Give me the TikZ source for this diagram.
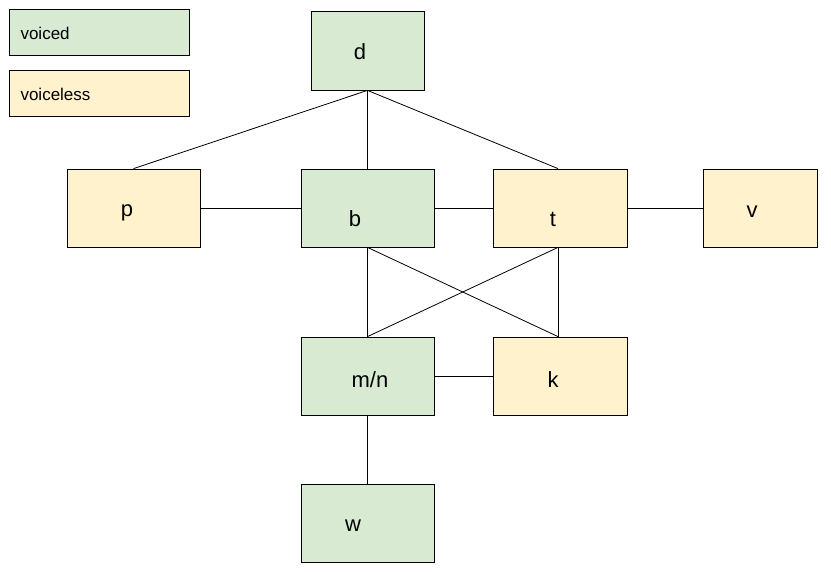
\documentclass[tikz,border=0pt]{standalone}
\usepackage{fontspec}
\setmainfont{Liberation Sans}
\definecolor{vgreen}{HTML}{D9EAD3}
\definecolor{vyellow}{HTML}{FFF2CC}
\begin{document}
\begin{tikzpicture}[x=1pt,y=-1pt,
  box/.style={draw=black,line width=0.8pt},
  gbox/.style={box,fill=vgreen},
  ybox/.style={box,fill=vyellow},
  lbl/.style={font=\fontsize{22}{26}\selectfont},
  leg/.style={font=\fontsize{17}{20}\selectfont,anchor=west},
  link/.style={line width=0.8pt}]
\useasboundingbox (0,0) rectangle (831,573);
\fill[white] (0,0) rectangle (831,573);
\draw[gbox] (9,9) rectangle (189,55);
\node[leg] (lv) at (17,33) {voiced};
\draw[ybox] (9,70) rectangle (189,116);
\node[leg] (lu) at (17,94) {voiceless};
% nodes
\node[gbox,minimum width=113,minimum height=79,inner sep=0] (d) at (367.5,50.5) {};
\node[ybox,minimum width=133,minimum height=78,inner sep=0] (p) at (133.5,208) {};
\node[gbox,minimum width=133,minimum height=78,inner sep=0] (b) at (367.5,208) {};
\node[ybox,minimum width=134,minimum height=78,inner sep=0] (t) at (560,208) {};
\node[ybox,minimum width=114,minimum height=78,inner sep=0] (v) at (760,208) {};
\node[gbox,minimum width=133,minimum height=78,inner sep=0] (mn) at (367.5,376) {};
\node[ybox,minimum width=134,minimum height=78,inner sep=0] (k) at (560,376) {};
\node[gbox,minimum width=133,minimum height=78,inner sep=0] (w) at (367.5,523) {};
% labels
\node[lbl] at (360,52) {d};
\node[lbl] at (127,213) {p};
\node[lbl] at (355,219) {b};
\node[lbl] at (553,219) {t};
\node[lbl] at (752,212) {v};
\node[lbl] at (370,380) {m/n};
\node[lbl] at (553,380) {k};
\node[lbl] at (353,526) {w};
% links
\draw[link] (d.south) -- (p.north);
\draw[link] (d.south) -- (b.north);
\draw[link] (d.south) -- ([xshift=-2]t.north);
\draw[link] (p.east) -- (b.west);
\draw[link] (b.east) -- (t.west);
\draw[link] (t.east) -- (v.west);
\draw[link] (b.south) -- (mn.north);
\draw[link] (b.south) -- ([xshift=-2]k.north);
\draw[link] ([xshift=-2]t.south) -- (mn.north);
\draw[link] ([xshift=-2]t.south) -- ([xshift=-2]k.north);
\draw[link] (mn.east) -- (k.west);
\draw[link] (mn.south) -- (w.north);
\end{tikzpicture}
\end{document}
